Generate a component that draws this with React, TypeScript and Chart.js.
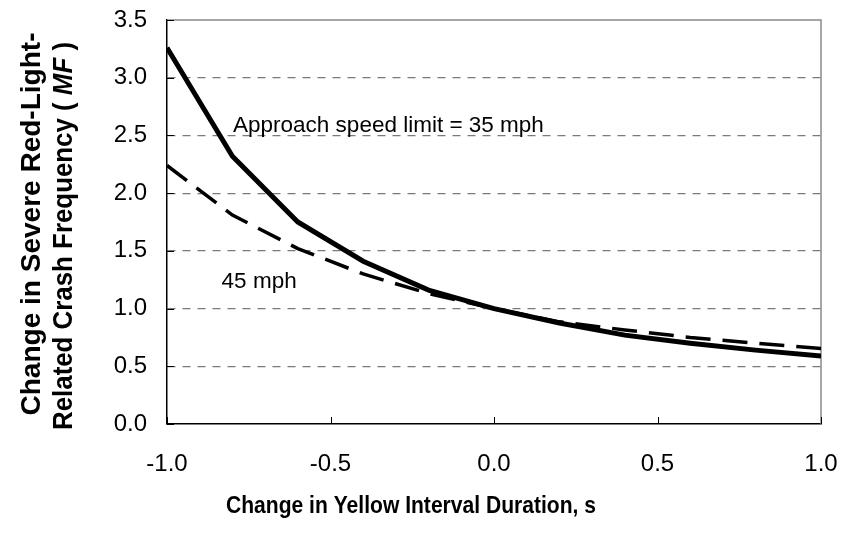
import React, { useEffect, useRef } from "react";
import { Chart, registerables } from "chart.js";

Chart.register(...registerables);

const xValues = [-1.0, -0.8, -0.6, -0.4, -0.2, 0.0, 0.2, 0.4, 0.6, 0.8, 1.0];
const mf35 = [3.26, 2.32, 1.75, 1.41, 1.16, 1.0, 0.875, 0.77, 0.70, 0.64, 0.59];
const mf45 = [2.24, 1.81, 1.52, 1.30, 1.13, 1.0, 0.885, 0.815, 0.75, 0.70, 0.655];

const xTitle = "Change in Yellow Interval Duration, s";
const yTitleLine1 = "Change in Severe Red-Light-";
const yTitleLine2a = "Related Crash Frequency ( ";
const yTitleLine2b = "MF";
const yTitleLine2c = " )";

const label35 = "Approach speed limit = 35 mph";
const label35Pos = { x: -0.798, y: 2.53 };
const label45 = "45 mph";
const label45Pos = { x: -0.833, y: 1.176 };

const FONT = '"Liberation Sans", Arial, Helvetica, sans-serif';

const decorPlugin = {
  id: "decor",
  beforeDatasetsDraw(chart: any) {
    const { ctx, chartArea: a, scales } = chart;
    const xs = scales.x;
    const ys = scales.y;
    ctx.save();
    ctx.strokeStyle = "#8a8a8a";
    ctx.lineWidth = 1.5;
    ctx.beginPath();
    ctx.moveTo(a.left, a.top);
    ctx.lineTo(a.right, a.top);
    ctx.lineTo(a.right, a.bottom);
    ctx.stroke();
    ctx.strokeStyle = "#000";
    ctx.lineWidth = 1;
    xs.ticks.forEach((t: any) => {
      const px = Math.round(xs.getPixelForValue(t.value)) + 0.5;
      ctx.beginPath();
      ctx.moveTo(px, a.bottom);
      ctx.lineTo(px, a.bottom - 7);
      ctx.stroke();
    });
    ys.ticks.forEach((t: any) => {
      const py = Math.round(ys.getPixelForValue(t.value)) + 0.5;
      ctx.beginPath();
      ctx.moveTo(a.left, py);
      ctx.lineTo(a.left + 7, py);
      ctx.stroke();
    });
    ctx.restore();
  },
  afterDraw(chart: any) {
    const { ctx, scales } = chart;
    const xs = scales.x;
    const ys = scales.y;
    ctx.save();
    ctx.fillStyle = "#000";
    ctx.font = `22.5px ${FONT}`;
    ctx.textAlign = "left";
    ctx.textBaseline = "alphabetic";
    ctx.fillText(label35, xs.getPixelForValue(label35Pos.x), ys.getPixelForValue(label35Pos.y));
    ctx.fillText(label45, xs.getPixelForValue(label45Pos.x), ys.getPixelForValue(label45Pos.y));

    ctx.font = `bold 24px ${FONT}`;
    const xw = ctx.measureText(xTitle).width;
    ctx.save();
    ctx.translate(411, 513);
    ctx.scale(370 / xw, 1);
    ctx.textAlign = "center";
    ctx.fillText(xTitle, 0, 0);
    ctx.restore();

    ctx.font = `bold 28px ${FONT}`;
    const w1 = ctx.measureText(yTitleLine1).width;
    ctx.save();
    ctx.translate(40, 224);
    ctx.rotate(-Math.PI / 2);
    ctx.scale(383 / w1, 1);
    ctx.textAlign = "center";
    ctx.fillText(yTitleLine1, 0, 0);
    ctx.restore();

    ctx.font = `bold 28px ${FONT}`;
    const wa = ctx.measureText(yTitleLine2a).width;
    const wc = ctx.measureText(yTitleLine2c).width;
    ctx.font = `italic bold 28px ${FONT}`;
    const wb = ctx.measureText(yTitleLine2b).width;
    const total = wa + wb + wc;
    ctx.save();
    ctx.translate(72, 236);
    ctx.rotate(-Math.PI / 2);
    ctx.scale(388 / total, 1);
    ctx.textAlign = "left";
    let x0 = -total / 2;
    ctx.font = `bold 28px ${FONT}`;
    ctx.fillText(yTitleLine2a, x0, 0);
    x0 += wa;
    ctx.font = `italic bold 28px ${FONT}`;
    ctx.fillText(yTitleLine2b, x0, 0);
    x0 += wb;
    ctx.font = `bold 28px ${FONT}`;
    ctx.fillText(yTitleLine2c, x0, 0);
    ctx.restore();

    ctx.restore();
  },
};

const zeroPadding = (s: any) => {
  s.paddingTop = 0;
  s.paddingBottom = 0;
  s.paddingLeft = 0;
  s.paddingRight = 0;
};

export default function App() {
  const ref = useRef<HTMLCanvasElement | null>(null);

  useEffect(() => {
    document.body.style.margin = "0";
    const canvas = ref.current;
    if (!canvas) return;
    const chart = new Chart(canvas, {
      type: "line",
      data: {
        datasets: [
          {
            label: "35 mph",
            data: xValues.map((x, i) => ({ x, y: mf35[i] })),
            borderColor: "#000",
            borderWidth: 5,
            pointRadius: 0,
            tension: 0,
            fill: false,
            borderCapStyle: "butt",
            borderJoinStyle: "miter",
          },
          {
            label: "45 mph",
            data: xValues.map((x, i) => ({ x, y: mf45[i] })),
            borderColor: "#000",
            borderWidth: 3.5,
            borderDash: [25, 12],
            pointRadius: 0,
            tension: 0,
            fill: false,
            borderCapStyle: "butt",
          },
        ],
      },
      options: {
        animation: false,
        responsive: false,
        maintainAspectRatio: false,
        devicePixelRatio: 1,
        layout: { padding: { left: 0, top: 20, right: 20, bottom: 0 } },
        plugins: {
          legend: { display: false },
          tooltip: { enabled: false },
          title: { display: false },
        },
        scales: {
          x: {
            type: "linear",
            min: -1,
            max: 1,
            ticks: {
              stepSize: 0.5,
              color: "#000",
              font: { family: FONT, size: 24 },
              padding: 26,
              maxRotation: 0,
              callback: (v: any) => Number(v).toFixed(1),
            },
            grid: { display: false, drawTicks: false },
            border: { display: true, color: "#000", width: 1.5 },
            afterFit: (s: any) => {
              s.height = 114;
              zeroPadding(s);
            },
          },
          y: {
            min: 0,
            max: 3.5,
            ticks: {
              stepSize: 0.5,
              color: "#000",
              font: { family: FONT, size: 24 },
              padding: 20,
              callback: (v: any) => Number(v).toFixed(1),
            },
            grid: {
              drawTicks: false,
              color: (c: any) =>
                c.tick && (c.tick.value === 0 || c.tick.value === 3.5) ? "rgba(0,0,0,0)" : "#7a7a7a",
              lineWidth: 1.2,
            },
            border: { display: true, color: "#000", width: 1.5, dash: [8, 7] },
            afterFit: (s: any) => {
              s.width = 167;
              zeroPadding(s);
            },
          },
        },
      },
      plugins: [decorPlugin],
    } as any);
    return () => chart.destroy();
  }, []);

  return (
    <div style={{ position: "fixed", left: 0, top: 0, width: 841, height: 538, background: "#fff" }}>
      <canvas ref={ref} width={841} height={538} style={{ width: 841, height: 538, display: "block" }} />
    </div>
  );
}
